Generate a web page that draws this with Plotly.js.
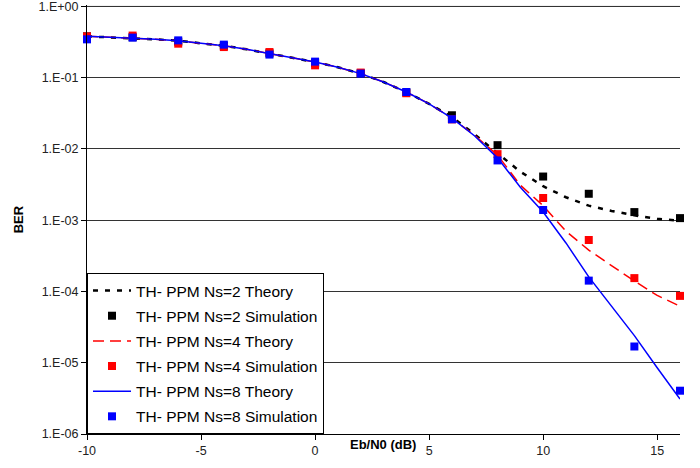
<!DOCTYPE html>
<html>
<head>
<meta charset="utf-8">
<script src="https://cdn.plot.ly/plotly-3.0.1.min.js"></script>
<style>html,body{margin:0;padding:0;background:#fff;}#chart{width:700px;height:468px;}</style>
</head>
<body>
<div id="chart"></div>
<script>
// Theory curves sampled at every dB
var theoryX = [-10,-9,-8,-7,-6,-5,-4,-3,-2,-1,0,1,2,3,4,5,6,7,8,9,10,11,12,13,14,15,16];
var theoryNs2 = [0.38,0.37,0.36,0.345,0.33,0.306,0.28,0.25,0.22,0.19,0.166,0.14,0.114,0.087,0.063,0.043,0.028,0.016,0.0087,0.0048,0.0030,0.0021,0.0016,0.00135,0.00117,0.00105,0.00098];
var theoryNs4 = [0.38,0.37,0.36,0.345,0.33,0.306,0.28,0.25,0.22,0.19,0.166,0.14,0.114,0.087,0.063,0.043,0.027,0.0155,0.0082,0.0031,0.0016,0.0007,0.00038,0.00023,0.00014,0.000088,0.000062];
var theoryNs8 = [0.38,0.37,0.36,0.345,0.33,0.306,0.28,0.25,0.22,0.19,0.166,0.14,0.114,0.087,0.063,0.043,0.027,0.0152,0.0075,0.0029,0.0013,0.00048,0.00016,0.000061,0.000024,0.0000085,0.0000031];
// Simulation points
var simX = [-10,-8,-6,-4,-2,0,2,4,6,8,10,12,14,16];
var simNs2 = [0.38,0.37,0.32,0.28,0.22,0.16,0.115,0.062,0.0297,0.0113,0.0041,0.00235,0.0013,0.00107];
var simNs4 = [0.38,0.39,0.30,0.269,0.229,0.149,0.118,0.0605,0.026,0.00846,0.00205,0.000528,0.000154,0.0000867];
var simNs8 = [0.345,0.365,0.334,0.291,0.211,0.168,0.114,0.063,0.0261,0.0069,0.00139,0.000142,0.0000169,0.00000405];
var seriesNames = ["TH- PPM Ns=2 Theory","TH- PPM Ns=2 Simulation","TH- PPM Ns=4 Theory","TH- PPM Ns=4 Simulation","TH- PPM Ns=8 Theory","TH- PPM Ns=8 Simulation"];
var yTickVals = [1,0.1,0.01,0.001,0.0001,0.00001,0.000001];
var yTickText = ["1.E+00","1.E-01","1.E-02","1.E-03","1.E-04","1.E-05","1.E-06"];
var xTickVals = [-10,-5,0,5,10,15];
var xTickText = ["-10","-5","0","5","10","15"];
var yRange = [-6,0.02];

function line(x,y,name,color,dash,width,g){
  return {x:x,y:y,name:name,type:'scatter',mode:'lines',legendgroup:g,
    line:{color:color,dash:dash,width:width},cliponaxis:false,hoverinfo:'skip'};
}
function pts(x,y,name,color,g){
  return {x:x,y:y,name:name,type:'scatter',mode:'markers',legendgroup:g,
    marker:{symbol:'square',size:8,color:color},cliponaxis:false,hoverinfo:'skip'};
}
var data = [
  line(theoryX,theoryNs2,seriesNames[0],'#000000','5px,7px',2.5,'a'),
  pts(simX,simNs2,seriesNames[1],'#000000','b'),
  line(theoryX,theoryNs4,seriesNames[2],'#ff0000','11px,6px',1.5,'c'),
  pts(simX,simNs4,seriesNames[3],'#ff0000','d'),
  line(theoryX,theoryNs8,seriesNames[4],'#0000ff','solid',1.5,'e'),
  pts(simX,simNs8,seriesNames[5],'#0000ff','f')
];
var topFrac = (0 - yRange[0]) / (yRange[1] - yRange[0]);
var layout = {
  width:700,height:468,
  margin:{l:87,r:20,t:5,b:34},
  paper_bgcolor:'#ffffff',plot_bgcolor:'#ffffff',
  font:{family:'Liberation Sans, Arial, sans-serif',size:12,color:'#222'},
  showlegend:true,
  legend:{x:0,y:0,xanchor:'left',yanchor:'bottom',bgcolor:'#ffffff',
    bordercolor:'#000000',borderwidth:1,traceorder:'grouped',tracegroupgap:2,itemwidth:38,
    font:{family:'Liberation Sans, Arial, sans-serif',size:15.5,color:'#000'}},
  xaxis:{range:[-10,16],tickvals:xTickVals,ticktext:xTickText,ticks:'outside',ticklen:5,tickcolor:'#000',
    showgrid:false,zeroline:false,showline:true,linecolor:'#000',linewidth:1,
    tickfont:{size:12.5,color:'#222'},ticklabeloverflow:'allow'},
  yaxis:{type:'log',range:yRange,tickvals:yTickVals,ticktext:yTickText,ticks:'outside',ticklen:5,
    tickcolor:'#000',showgrid:true,gridcolor:'#333',gridwidth:1,zeroline:false,showline:true,
    linecolor:'#000',linewidth:1,tickfont:{size:12.5,color:'#222'},ticklabeloverflow:'allow'},
  shapes:[
    {type:'line',xref:'paper',yref:'paper',x0:0,x1:1,y0:topFrac,y1:topFrac,layer:'below',
     line:{color:'#555',width:1}}
  ],
  annotations:[
    {text:'<b>BER</b>',xref:'paper',yref:'paper',x:-0.115,y:0.5,xanchor:'center',yanchor:'middle',
     textangle:-90,showarrow:false,font:{size:13,color:'#000'}},
    {text:'<b>Eb/N0 (dB)</b>',xref:'x',yref:'paper',x:2.98,y:0,xanchor:'center',yanchor:'top',yshift:-1,
     showarrow:false,font:{size:13,color:'#000'}}
  ]
};
Plotly.newPlot('chart',data,layout,{staticPlot:true});
</script>
</body>
</html>
